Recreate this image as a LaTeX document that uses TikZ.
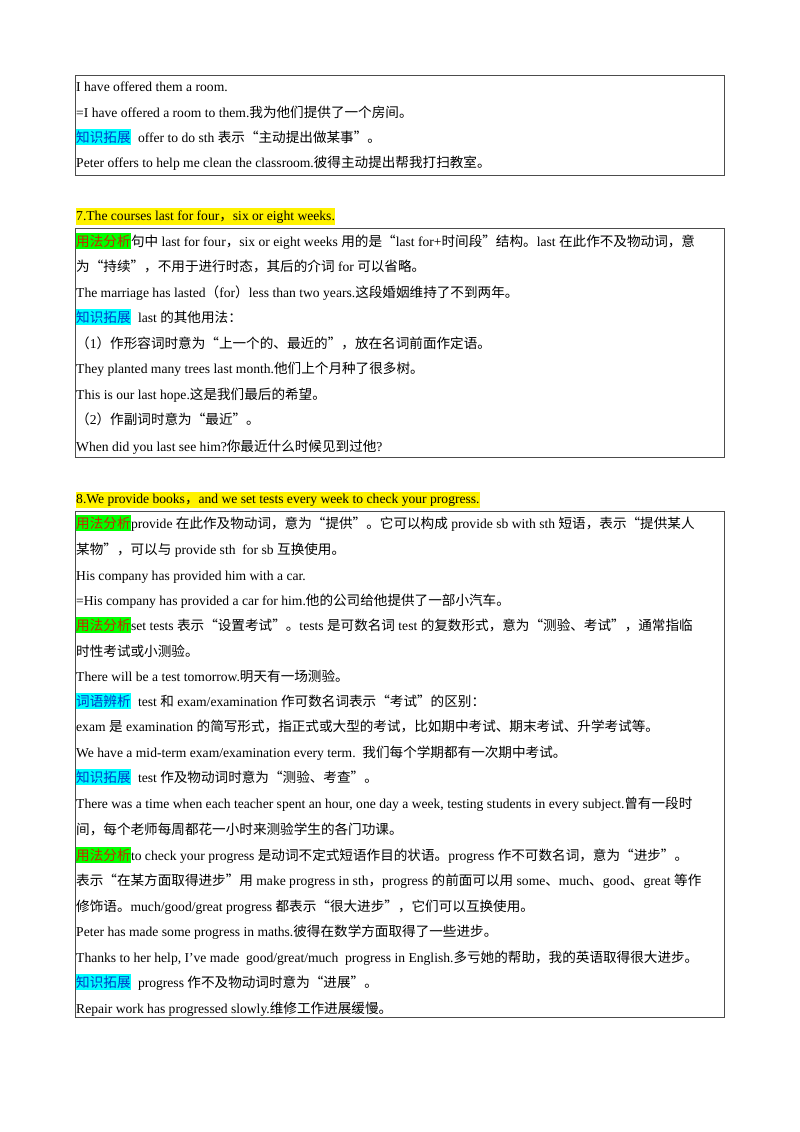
\documentclass[tikz,border=0pt]{standalone}
\usepackage{fontspec}
\setmainfont{Liberation Serif}
\newfontfamily\cjk{Noto Sans CJK SC}
\usetikzlibrary{positioning}
% switch to the CJK font for Chinese characters and punctuation
\XeTeXinterchartokenstate=1
\newXeTeXintercharclass\CJKcls
\makeatletter
\count@="4E00 \loop\ifnum\count@<"A000 \XeTeXcharclass\count@=\CJKcls \advance\count@ by 1 \repeat
\count@="3000 \loop\ifnum\count@<"3040 \XeTeXcharclass\count@=\CJKcls \advance\count@ by 1 \repeat
\count@="FF00 \loop\ifnum\count@<"FFF0 \XeTeXcharclass\count@=\CJKcls \advance\count@ by 1 \repeat
\makeatother
\XeTeXcharclass"201C=\CJKcls
\XeTeXcharclass"201D=\CJKcls
\XeTeXinterchartoks 0 \CJKcls={\cjk}
\XeTeXinterchartoks 4095 \CJKcls={\cjk}
\XeTeXinterchartoks \CJKcls 0={\rmfamily}
\XeTeXinterchartoks \CJKcls 4095={\rmfamily}
\definecolor{tagcyan}{RGB}{0,255,255}
\definecolor{taggreen}{RGB}{0,255,0}
\definecolor{tagred}{RGB}{200,40,0}
\definecolor{tagblue}{RGB}{0,60,200}
\tikzset{
x=1pt, y=-1pt, % one unit is one pixel of the page
line/.style={anchor=base west, inner sep=0pt, font=\fontsize{13.6}{15}\selectfont}, % one text line
tagK/.style={line, fill=tagcyan, text=tagblue, inner ysep=2pt}, % 知识拓展 / 词语辨析
tagY/.style={line, fill=taggreen, text=tagred, inner ysep=2pt}, % 用法分析
head/.style={line, fill=yellow, inner ysep=2pt}, % numbered headings
box/.style={draw=black!70, line width=0.9pt}, % frame round each block
}
\newcommand\tl[3]{\node[line] (#1) at (76,#2) {#3};}
\newcommand\tagl[6]{\node[#2] (#1) at (76,#3) {#4};
  \node[line] (#1t) at ([xshift=#6]#1.base east) {#5};}
\begin{document}
\begin{tikzpicture}
\useasboundingbox[fill=white] (0,0) rectangle (800,1132);
% block one
\draw[box] (75,75) rectangle (724,175);
\tl{a1}{92}{I have offered them a room.}
\tl{a2}{117}{=I have offered a room to them.我为他们提供了一个房间。}
\tagl{a3}{tagK}{142}{知识拓展}{offer to do sth 表示“主动提出做某事”。}{7pt}
\tl{a4}{167}{Peter offers to help me clean the classroom.彼得主动提出帮我打扫教室。}
% heading 7
\node[head] (h7) at (76,220) {7.The courses last for four，six or eight weeks.};
\draw[box] (75,228) rectangle (724,457);
\tagl{b1}{tagY}{246}{用法分析}{句中 last for four，six or eight weeks 用的是“last for+时间段”结构。last 在此作不及物动词，意}{0pt}
\tl{b2}{271}{为“持续”，不用于进行时态，其后的介词 for 可以省略。}
\tl{b3}{297}{The marriage has lasted（for）less than two years.这段婚姻维持了不到两年。}
\tagl{b4}{tagK}{322}{知识拓展}{last 的其他用法：}{7pt}
\tl{b5}{348}{（1）作形容词时意为“上一个的、最近的”，放在名词前面作定语。}
\tl{b6}{373}{They planted many trees last month.他们上个月种了很多树。}
\tl{b7}{399}{This is our last hope.这是我们最后的希望。}
\tl{b8}{424}{（2）作副词时意为“最近”。}
\tl{b9}{451}{When did you last see him?你最近什么时候见到过他?}
% heading 8
\node[head] (h8) at (76,503) {8.We provide books，and we set tests every week to check your progress.};
\draw[box] (75,511) rectangle (724,1017);
\tagl{c1}{tagY}{528}{用法分析}{provide 在此作及物动词，意为“提供”。它可以构成 provide sb with sth 短语，表示“提供某人}{0pt}
\tl{c2}{554}{某物”，可以与 provide sth\ \ for sb 互换使用。}
\tl{c3}{580}{His company has provided him with a car.}
\tl{c4}{605}{=His company has provided a car for him.他的公司给他提供了一部小汽车。}
\tagl{c5}{tagY}{630}{用法分析}{set tests 表示“设置考试”。tests 是可数名词 test 的复数形式，意为“测验、考试”，通常指临}{0pt}
\tl{c6}{656}{时性考试或小测验。}
\tl{c7}{681}{There will be a test tomorrow.明天有一场测验。}
\tagl{c8}{tagK}{706}{词语辨析}{test 和 exam/examination 作可数名词表示“考试”的区别：}{7pt}
\tl{c9}{731}{exam 是 examination 的简写形式，指正式或大型的考试，比如期中考试、期末考试、升学考试等。}
\tl{c10}{757}{We have a mid-term exam/examination every term.\ \ 我们每个学期都有一次期中考试。}
\tagl{c11}{tagK}{782}{知识拓展}{test 作及物动词时意为“测验、考查”。}{7pt}
\tl{c12}{808}{There was a time when each teacher spent an hour, one day a week, testing students in every subject.曾有一段时}
\tl{c13}{834}{间，每个老师每周都花一小时来测验学生的各门功课。}
\tagl{c14}{tagY}{860}{用法分析}{to check your progress 是动词不定式短语作目的状语。progress 作不可数名词，意为“进步”。}{0pt}
\tl{c15}{885}{表示“在某方面取得进步”用 make progress in sth，progress 的前面可以用 some、much、good、great 等作}
\tl{c16}{911}{修饰语。much/good/great progress 都表示“很大进步”，它们可以互换使用。}
\tl{c17}{936}{Peter has made some progress in maths.彼得在数学方面取得了一些进步。}
\tl{c18}{962}{Thanks to her help, I’ve made\ \ good/great/much\ \ progress in English.多亏她的帮助，我的英语取得很大进步。}
\tagl{c19}{tagK}{987}{知识拓展}{progress 作不及物动词时意为“进展”。}{7pt}
\tl{c20}{1013}{Repair work has progressed slowly.维修工作进展缓慢。}
\end{tikzpicture}
\end{document}
